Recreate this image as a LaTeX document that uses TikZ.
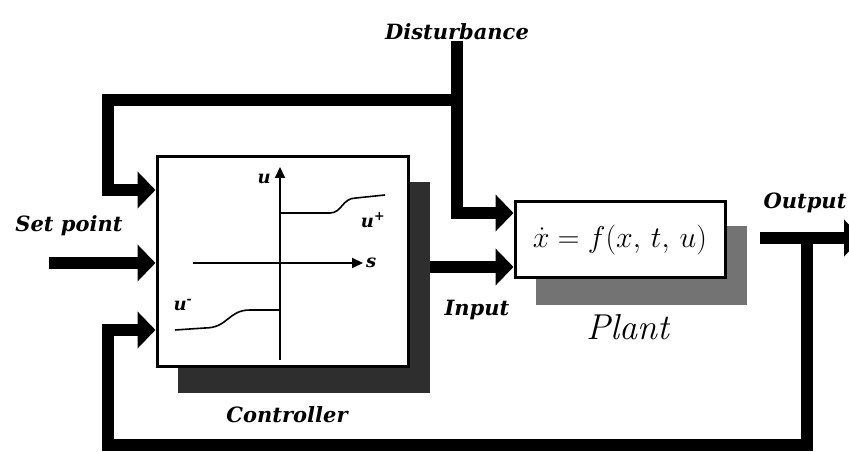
\documentclass[tikz,border=0pt]{standalone}
\usepackage{fix-cm}
\usepackage{fontspec}
\newfontfamily\lblfont{DejaVu Serif}
\usetikzlibrary{arrows.meta,calc}
\begin{document}
\begin{tikzpicture}[x=1pt, y=1pt,
  blk/.style={draw, line width=3pt, fill=white, inner sep=0pt},
  shade/.style={fill=black!82},
  flow/.style={line width=12pt, -{Triangle[length=18pt, width=36pt]}},
  axis/.style={line width=2pt, -{Triangle[length=11pt, width=10pt]}},
  curve/.style={line width=1.6pt},
  lbl/.style={font=\lblfont\fontsize{21}{23}\selectfont\bfseries\itshape, inner sep=1pt},
  sym/.style={font=\lblfont\fontsize{18}{20}\selectfont\bfseries\itshape, inner sep=1pt},
]
\clip (0,0) rectangle (849,452);
% shadows behind the two blocks
\fill[shade] (178,59) rectangle (430,270);
\fill[black!55] (536,147) rectangle (747,226);

\node[blk, minimum width=251pt, minimum height=210pt] (ctrl) at (282.5,190) {};
\node[blk, minimum width=210pt, minimum height=76pt,
      font=\fontsize{30}{32}\selectfont] (plant) at (620,212) {$\dot{x} = f(x,\,t,\,u)$};

\node[lbl] (dist)  at (457,420) {Disturbance};
\node[lbl] (setp)  at (69,226)  {Set point};
\node[lbl] (inp)   at (477,142) {Input};
\node[lbl] (outp)  at (805,249) {Output};
\node[lbl] (cname) at (287,37)  {Controller};
\node[font=\fontsize{36}{38}\selectfont\itshape] (pname) at (628,125) {Plant};

\coordinate (cin1) at ($(ctrl.west)+(0,72)$);
\coordinate (cin2) at ($(ctrl.west)+(0,-1)$);
\coordinate (cin3) at ($(ctrl.west)+(0,-68)$);
\coordinate (pin1) at ($(plant.west)+(0,27)$);
\coordinate (pin2) at ($(plant.west)+(0,-27)$);
\coordinate (cout) at (430,185);
\coordinate (sp)   at (49,189);
\coordinate (bj)   at (457,352);
\coordinate (tl)   at (108,352);
\coordinate (pout) at (760,214);
\coordinate (fb)   at (807,214);
\coordinate (oend) at (862,214);
\coordinate (bl)   at (108,7);

\draw[flow] (dist.south) |- (pin1);
\draw[flow] (bj) -- (tl) |- (cin1);
\draw[flow] (sp) -- (cin2);
\draw[flow] (cout) -- (pin2);
\draw[flow] (pout) -- (oend);
\draw[flow] (fb) |- (bl) |- (cin3);

% switching characteristic inside the controller
\coordinate (ubot) at (280,92);
\coordinate (utop) at (280,285);
\coordinate (sleft) at (193,189);
\coordinate (sright) at (363,189);
\draw[axis] (ubot) -- (utop);
\draw[axis] (sleft) -- (sright);
\node[sym, anchor=east] (ulbl) at (272,273) {u};
\node[sym, anchor=west] (slbl) at (365,189) {s};
\draw[curve] (280,239) -- (330,239) .. controls (342,239) and (342,254) .. (356,254) -- (385,257);
\draw[curve] (280,142) -- (250,142) .. controls (228,142) and (228,124) .. (205,124) -- (175,122);
\node[sym] (uplus)  at (373,232) {u\textsuperscript{+}};
\node[sym] (uminus) at (183,147) {u\textsuperscript{-}};
\end{tikzpicture}
\end{document}
